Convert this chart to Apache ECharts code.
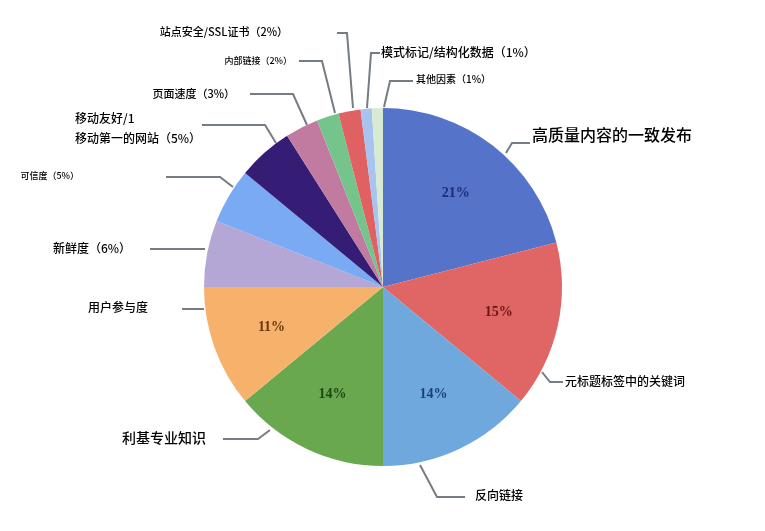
<!DOCTYPE html>
<html><head><meta charset="utf-8">
<script src="https://cdn.jsdelivr.net/npm/echarts@6/dist/echarts.min.js"></script>
<style>html,body{margin:0;padding:0;background:#fff}#c{width:765px;height:531px}</style>
</head><body><div id="c"></div>
<script>
// ---- data ----
const categories = ['高质量内容的一致发布','元标题标签中的关键词','反向链接','利基专业知识','用户参与度','新鲜度','可信度','移动友好/1\n移动第一的网站','页面速度','内部链接','站点安全/SSL证书','模式标记/结构化数据','其他因素'];
const shares = [21,15,14,14,11,6,5,5,3,2,2,1,1];
const pctInName = [false,false,false,false,false,true,true,true,true,true,true,true,true];
const pctInside = [true,true,true,true,true,false,false,false,false,false,false,false,false];

// ---- styles ----
const sliceColors = ['#5573c9','#e06666','#6fa8dc','#6aa84f','#f6b26b','#b4a7d6','#79aaf3','#351c75','#c27ba0','#74c48b','#e06161','#a7c4f0','#d9ead3'];
const insideColors = ['#1b2d7a','#6e1414','#1c3f78','#1f4512','#6b3510'];
const labelFontSizes = [16,12,12,14,12,12,9,12,11,9,11,12,10];
const labelGuides = [
  {pts:[[506,153],[512,143],[530,143]], tx:532, ty:135, align:'left'},
  {pts:[[542,372],[550,382],[563,382]], tx:565, ty:381, align:'left'},
  {pts:[[420,465],[437,497],[465,497]], tx:475, ty:495, align:'left'},
  {pts:[[270,430],[258,439],[223,439]], tx:206, ty:438, align:'right'},
  {pts:[[204,309],[193,309],[182,309]], tx:148, ty:307, align:'right'},
  {pts:[[205,249],[178,249],[150,249]], tx:131, ty:248, align:'right'},
  {pts:[[233,187],[220,177],[166,177]], tx:79, ty:176, align:'right'},
  {pts:[[276,143],[265,125],[202,125]], tx:75, ty:128, align:'left'},
  {pts:[[307,125],[293,94],[250,94]], tx:235, ty:94, align:'right'},
  {pts:[[335,113],[322,61],[299,61]], tx:292, ty:61, align:'right'},
  {pts:[[353,108],[347,33],[337,33]], tx:288, ty:32, align:'right'},
  {pts:[[367,108],[371,53],[380,53]], tx:381, ty:52, align:'left'},
  {pts:[[384,107],[390,81],[413,81]], tx:416, ty:79, align:'left'}
];

const outerData = categories.map((n, i) => ({
  name: n,
  value: shares[i],
  itemStyle: {color: sliceColors[i]},
  label: {
    formatter: pctInName[i] ? n + '（' + shares[i] + '%）' : n,
    fontSize: labelFontSizes[i],
    lineHeight: labelFontSizes[i] + 8
  }
}));
const innerData = categories.map((n, i) => ({
  name: n,
  value: shares[i],
  label: {show: pctInside[i], color: insideColors[i] || '#000'}
}));

const chart = echarts.init(document.getElementById('c'));
chart.setOption({
  backgroundColor: '#fff',
  animation: false,
  series: [
    {
      type: 'pie',
      center: [383, 287],
      radius: [0, 179],
      startAngle: 90,
      clockwise: true,
      silent: true,
      avoidLabelOverlap: false,
      emphasis: {disabled: true},
      data: outerData,
      label: {
        show: true,
        position: 'outside',
        color: '#000',
        fontWeight: 500,
        fontFamily: '"Noto Sans CJK SC", sans-serif'
      },
      labelLine: {show: true, lineStyle: {color: '#767c83', width: 2}},
      labelLayout: function (p) {
        const g = labelGuides[p.dataIndex];
        return {x: g.tx, y: g.ty, align: g.align, verticalAlign: 'middle', labelLinePoints: g.pts};
      }
    },
    {
      type: 'pie',
      center: [383, 287],
      radius: [52, 179],
      startAngle: 90,
      clockwise: true,
      silent: true,
      emphasis: {disabled: true},
      itemStyle: {color: 'rgba(0,0,0,0)'},
      data: innerData,
      label: {
        position: 'inside',
        formatter: '{c}%',
        fontFamily: '"Liberation Serif", serif',
        fontWeight: 'bold',
        fontSize: 14
      },
      labelLine: {show: false}
    }
  ]
});
</script>
</body></html>
